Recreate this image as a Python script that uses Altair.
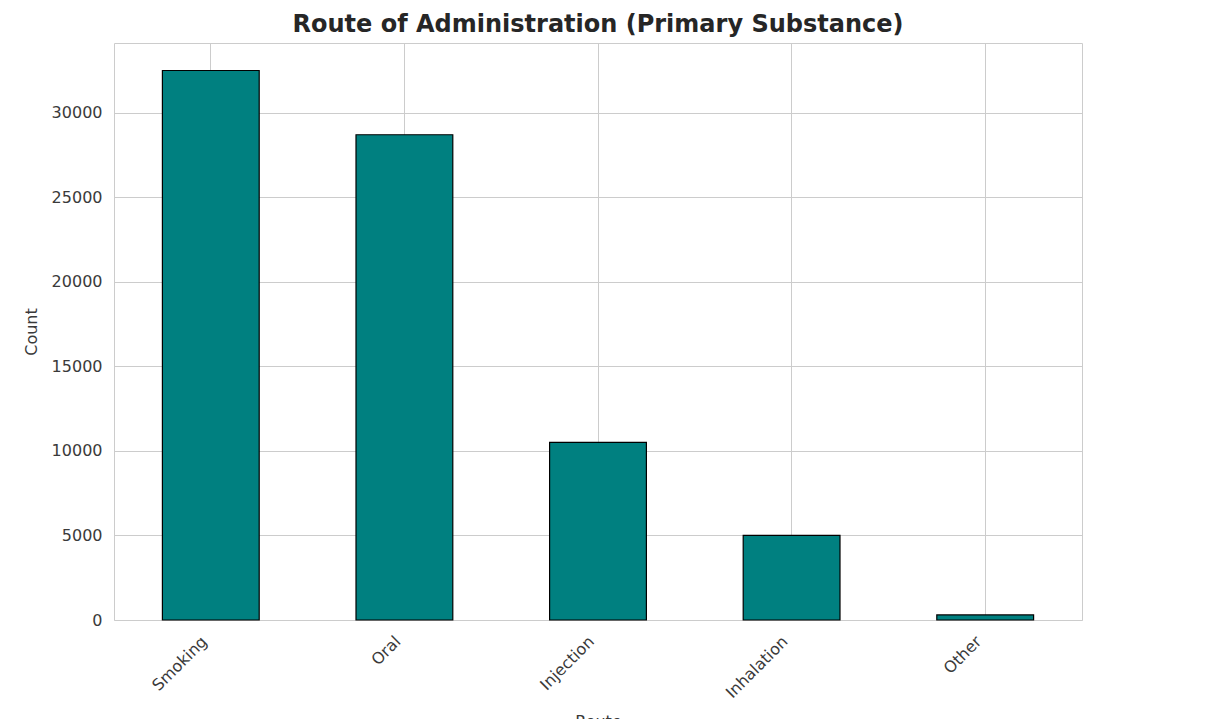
import altair as alt
import pandas as pd

routes = ["Smoking", "Oral", "Injection", "Inhalation", "Other"]
counts = [32500, 28700, 10500, 5000, 300]

df = pd.DataFrame({"Route": routes, "Count": counts})

FONT = "DejaVu Sans"

chart = alt.Chart(df).mark_bar(
    color="#008080", stroke="black", strokeWidth=1.2
).encode(
    x=alt.X("Route:N", sort=routes, title="Route",
            scale=alt.Scale(paddingInner=0.5, paddingOuter=0.25),
            axis=alt.Axis(labelAngle=-45, bandPosition=0.5, tickSize=0, grid=True,
                          labelPadding=13, labelOffset=-12, titlePadding=13)),
    y=alt.Y("Count:Q", title="Count",
            scale=alt.Scale(domain=[0, 34125], nice=False),
            axis=alt.Axis(values=[0, 5000, 10000, 15000, 20000, 25000, 30000],
                          format="d", tickSize=0, labelPadding=12, titlePadding=12)),
).properties(
    width=968, height=577,
    background="white",
    autosize=alt.AutoSizeParams(type="none"),
    padding={"left": 106, "top": 35, "right": 120, "bottom": 110},
    title=alt.TitleParams("Route of Administration (Primary Substance)",
                          fontSize=24, fontWeight="bold", font=FONT,
                          color="#262626", offset=6, anchor="middle"),
).configure_axis(
    labelFont=FONT, titleFont=FONT, labelFontSize=16, titleFontSize=16,
    labelColor="#3a3a3a", titleColor="#3a3a3a", titleFontWeight="normal",
    gridColor="#cccccc", gridWidth=1, domain=False,
).configure_view(
    stroke="#cccccc", strokeWidth=1,
)

chart.save("out.html", embed_options={"renderer": "svg", "actions": False})
